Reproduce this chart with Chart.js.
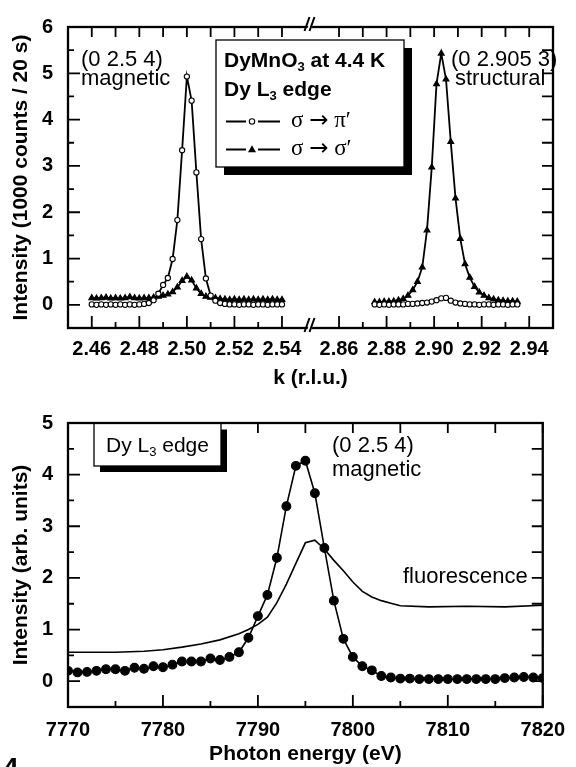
<!DOCTYPE html>
<html>
<head>
<meta charset="utf-8">
<script src="https://cdn.jsdelivr.net/npm/chart.js@4.4.1/dist/chart.umd.min.js"></script>
<style>
  html, body { margin: 0; padding: 0; background: #fff; }
  #wrap { position: relative; width: 576px; height: 767px; overflow: hidden; }
  canvas { position: absolute; left: 0; }
  #top { top: 0; }
  #bottom { top: 396px; }
</style>
</head>
<body>
<div id="wrap">
  <canvas id="top" width="576" height="396"></canvas>
  <canvas id="bottom" width="576" height="380"></canvas>
</div>
<script>
// ---- top panel: k scans through the two reflections ----
const kLeft = [2.460, 2.462, 2.464, 2.466, 2.468, 2.470, 2.472, 2.474, 2.476, 2.478,
  2.480, 2.482, 2.484, 2.486, 2.488, 2.490, 2.492, 2.494, 2.496, 2.498,
  2.500, 2.502, 2.504, 2.506, 2.508, 2.510, 2.512, 2.514, 2.516, 2.518,
  2.520, 2.522, 2.524, 2.526, 2.528, 2.530, 2.532, 2.534, 2.536, 2.538, 2.540];
const piLeft = [0.01, 0.00, 0.01, 0.00, 0.01, 0.00, 0.01, 0.00, 0.01, 0.00,
  0.01, 0.02, 0.04, 0.10, 0.24, 0.43, 0.58, 0.99, 1.83, 3.34,
  4.93, 4.41, 2.86, 1.42, 0.57, 0.20, 0.09, 0.04, 0.02, 0.01,
  0.01, 0.00, 0.01, 0.01, 0.00, 0.01, 0.01, 0.00, 0.01, 0.01, 0.01];
const sigmaLeft = [0.15, 0.14, 0.15, 0.16, 0.14, 0.15, 0.14, 0.15, 0.17, 0.15,
  0.14, 0.15, 0.15, 0.16, 0.18, 0.20, 0.23, 0.28, 0.38, 0.52,
  0.61, 0.53, 0.36, 0.24, 0.18, 0.16, 0.15, 0.13, 0.12, 0.11,
  0.12, 0.11, 0.12, 0.11, 0.12, 0.11, 0.12, 0.11, 0.12, 0.11, 0.11];
const kRight = [2.875, 2.877, 2.879, 2.881, 2.883, 2.885, 2.887, 2.889, 2.891, 2.893,
  2.895, 2.897, 2.899, 2.901, 2.903, 2.905, 2.907, 2.909, 2.911, 2.913,
  2.915, 2.917, 2.919, 2.921, 2.923, 2.925, 2.927, 2.929, 2.931, 2.933, 2.935];
const piRight = [0.01, 0.00, 0.01, 0.00, 0.01, 0.01, 0.01, 0.02, 0.02, 0.03,
  0.04, 0.05, 0.07, 0.10, 0.14, 0.15, 0.09, 0.05, 0.03, 0.02,
  0.01, 0.01, 0.00, 0.01, 0.01, 0.00, 0.01, 0.01, 0.00, 0.01, 0.01];
const sigmaRight = [0.06, 0.06, 0.07, 0.07, 0.08, 0.10, 0.13, 0.20, 0.32, 0.50,
  0.81, 1.61, 2.97, 4.77, 5.43, 4.87, 3.52, 2.30, 1.43, 0.88,
  0.59, 0.39, 0.27, 0.20, 0.15, 0.12, 0.10, 0.09, 0.08, 0.08, 0.07];
const kMajor = [2.46, 2.48, 2.50, 2.52, 2.54, 2.86, 2.88, 2.90, 2.92, 2.94];
const kMinor = [2.47, 2.49, 2.51, 2.53, 2.87, 2.89, 2.91, 2.93];
const countMajor = [0, 1, 2, 3, 4, 5, 6];
const countMinor = [0.5, 1.5, 2.5, 3.5, 4.5, 5.5];

// ---- bottom panel: energy scan at (0 2.5 4) ----
const energy = [7770, 7771, 7772, 7773, 7774, 7775, 7776, 7777, 7778, 7779,
  7780, 7781, 7782, 7783, 7784, 7785, 7786, 7787, 7788, 7789,
  7790, 7791, 7792, 7793, 7794, 7795, 7796, 7797, 7798, 7799,
  7800, 7801, 7802, 7803, 7804, 7805, 7806, 7807, 7808, 7809,
  7810, 7811, 7812, 7813, 7814, 7815, 7816, 7817, 7818, 7819, 7820];
const magnetic = [0.20, 0.17, 0.18, 0.20, 0.23, 0.23, 0.20, 0.26, 0.24, 0.29,
  0.27, 0.32, 0.38, 0.38, 0.38, 0.44, 0.41, 0.47, 0.56, 0.84,
  1.26, 1.67, 2.39, 3.39, 4.17, 4.27, 3.64, 2.58, 1.56, 0.82,
  0.47, 0.29, 0.21, 0.10, 0.07, 0.05, 0.05, 0.04, 0.04, 0.04,
  0.04, 0.04, 0.04, 0.04, 0.04, 0.04, 0.06, 0.07, 0.08, 0.07, 0.06];
const fluoEnergy = [7770, 7772, 7775, 7778, 7780, 7782, 7784, 7786, 7788, 7789,
  7790, 7791, 7792, 7793, 7794, 7795, 7796, 7797, 7798, 7799,
  7800, 7801, 7802, 7803, 7804, 7805, 7808, 7812, 7816, 7820];
const fluorescence = [0.56, 0.56, 0.56, 0.58, 0.61, 0.66, 0.72, 0.80, 0.92, 1.00,
  1.10, 1.24, 1.52, 1.88, 2.28, 2.68, 2.73, 2.56, 2.34, 2.14,
  1.92, 1.74, 1.63, 1.56, 1.51, 1.46, 1.44, 1.45, 1.44, 1.47];
const eMajor = [7770, 7780, 7790, 7800, 7810, 7820];
const eMinor = [7775, 7785, 7795, 7805, 7815];
const arbMajor = [0, 1, 2, 3, 4, 5];
const arbMinor = [0.5, 1.5, 2.5, 3.5, 4.5];

// the axis break squeezes 2.54 .. 2.86 into a short gap
const kGap = 0.296;
const toAxis = k => (k > 2.7 ? k - kGap : k);
const pts = (xs, ys, f = v => v) => xs.map((x, i) => ({ x: f(x), y: ys[i] }));

const SANS = '"Liberation Sans", Arial, sans-serif';
const SERIF = '"Liberation Serif", "DejaVu Serif", serif';
const ARROW = '"DejaVu Sans", sans-serif';
const tickFont = { family: SANS, size: 20, weight: 'bold' };
const titleFont = { family: SANS, size: 21, weight: 'bold' };

// frame + inward ticks on all four sides
const frameTicks = {
  id: 'frameTicks',
  afterDraw(chart, args, o) {
    const { ctx, chartArea: a } = chart;
    const x = chart.scales.x, y = chart.scales.y;
    ctx.save();
    ctx.strokeStyle = '#000';
    ctx.lineWidth = 1.8;
    ctx.beginPath();
    const tick = (px, py, dx, dy) => { ctx.moveTo(px, py); ctx.lineTo(px + dx, py + dy); };
    o.xMajor.forEach(v => tick(x.getPixelForValue(v), a.bottom, 0, -12));
    o.xMinor.forEach(v => tick(x.getPixelForValue(v), a.bottom, 0, -6));
    o.xMajor.concat(o.xMinor).forEach(v => tick(x.getPixelForValue(v), a.top, 0, 10));
    o.yMajor.forEach(v => tick(a.left, y.getPixelForValue(v), 12, 0));
    o.yMinor.forEach(v => tick(a.left, y.getPixelForValue(v), 6, 0));
    o.yMajor.concat(o.yMinor).forEach(v => tick(a.right, y.getPixelForValue(v), -11, 0));
    ctx.stroke();
    ctx.lineWidth = 2.3;
    ctx.strokeRect(a.left, a.top, a.right - a.left, a.bottom - a.top);
    if (o.breakAt !== undefined) {
      const bx = x.getPixelForValue(o.breakAt);
      [a.top, a.bottom].forEach(edge => {
        const cy = edge - 3;
        ctx.fillStyle = '#fff';
        ctx.beginPath();
        ctx.moveTo(bx - 4, cy + 7); ctx.lineTo(bx + 1, cy - 7);
        ctx.lineTo(bx + 5, cy - 7); ctx.lineTo(bx, cy + 7);
        ctx.closePath(); ctx.fill();
        ctx.lineWidth = 2;
        ctx.beginPath();
        ctx.moveTo(bx - 6, cy + 7); ctx.lineTo(bx - 1, cy - 7);
        ctx.moveTo(bx - 1, cy + 7); ctx.lineTo(bx + 4, cy - 7);
        ctx.stroke();
      });
    }
    ctx.restore();
  }
};

// parts: [text, subscript?, family?]
function richText(ctx, parts, x, y, size, weight, family) {
  parts.forEach(([t, sub, fam]) => {
    const s = sub ? size * 0.62 : size;
    ctx.font = `${weight} ${s}px ${fam || family}`;
    ctx.fillText(t, x, sub ? y + size * 0.2 : y);
    x += ctx.measureText(t).width;
  });
}

function shadowBox(ctx, x, y, w, h, off) {
  ctx.fillStyle = '#000';
  ctx.fillRect(x + off, y + off, w, h);
  ctx.fillStyle = '#fff';
  ctx.fillRect(x, y, w, h);
  ctx.strokeStyle = '#000';
  ctx.lineWidth = 1.3;
  ctx.strokeRect(x, y, w, h);
}

const topNotes = {
  id: 'topNotes',
  afterDraw(chart) {
    const ctx = chart.ctx;
    ctx.save();
    ctx.fillStyle = '#000';
    ctx.textBaseline = 'alphabetic';
    ctx.font = `22px ${SANS}`;
    ctx.fillText('(0 2.5 4)', 81, 65.5);
    ctx.fillText('magnetic', 81, 85);
    ctx.fillText('(0 2.905 3)', 451, 65.5);
    ctx.fillText('structural', 455, 85);

    shadowBox(ctx, 216, 40, 188, 127, 8);
    ctx.fillStyle = '#000';
    richText(ctx, [['DyMnO'], ['3', true], [' at 4.4 K']], 224, 67, 21, 'bold', SANS);
    richText(ctx, [['Dy L'], ['3', true], [' edge']], 224, 96, 21, 'bold', SANS);

    ctx.lineWidth = 1.8;
    ctx.strokeStyle = '#000';
    [121.5, 149.5].forEach(ly => {
      ctx.beginPath();
      ctx.moveTo(226, ly); ctx.lineTo(246, ly);
      ctx.moveTo(258, ly); ctx.lineTo(280, ly);
      ctx.stroke();
    });
    ctx.fillStyle = '#fff';
    ctx.lineWidth = 1.1;
    ctx.beginPath(); ctx.arc(252, 121.5, 2.7, 0, Math.PI * 2); ctx.fill(); ctx.stroke();
    ctx.fillStyle = '#000';
    ctx.beginPath();
    ctx.moveTo(252, 145.3); ctx.lineTo(256, 152.3); ctx.lineTo(248, 152.3);
    ctx.closePath(); ctx.fill();
    richText(ctx, [['\u03C3 '], ['\u2192', false, ARROW], [' \u03C0\u2032']], 291, 127, 23, 'normal', SERIF);
    richText(ctx, [['\u03C3 '], ['\u2192', false, ARROW], [' \u03C3\u2032']], 291, 155, 23, 'normal', SERIF);
    ctx.restore();
  }
};

const bottomNotes = {
  id: 'bottomNotes',
  afterDraw(chart) {
    const ctx = chart.ctx;
    ctx.save();
    shadowBox(ctx, 94, 27.5, 127, 42.5, 6);
    ctx.fillStyle = '#000';
    richText(ctx, [['Dy L'], ['3', true], [' edge']], 106, 56, 21, 'normal', SANS);
    ctx.font = `22px ${SANS}`;
    ctx.fillText('(0 2.5 4)', 332, 56);
    ctx.fillText('magnetic', 332, 80);
    ctx.fillText('fluorescence', 403, 187);
    ctx.font = `bold 28px ${SANS}`;
    ctx.fillText('4', 3, 381);
    ctx.restore();
  }
};

const lineSet = (data, extra) => Object.assign({
  data, borderColor: '#000', borderWidth: 1.8, tension: 0,
  pointBorderColor: '#000', pointBorderWidth: 1.1, pointHoverRadius: 0
}, extra);
const circles = { pointStyle: 'circle', pointRadius: 2.6, pointBackgroundColor: '#fff' };
const triangles = { pointStyle: 'triangle', pointRadius: 3.4, pointBackgroundColor: '#000' };

new Chart(document.getElementById('top'), {
  type: 'line',
  data: {
    datasets: [
      lineSet(pts(kLeft, piLeft, toAxis), circles),
      lineSet(pts(kRight, piRight, toAxis), circles),
      lineSet(pts(kLeft, sigmaLeft, toAxis), triangles),
      lineSet(pts(kRight, sigmaRight, toAxis), triangles)
    ]
  },
  options: {
    responsive: false,
    animation: false,
    layout: { padding: { top: 24, right: 23, left: 0, bottom: 0 } },
    plugins: {
      legend: { display: false },
      tooltip: { enabled: false },
      frameTicks: {
        xMajor: kMajor.map(toAxis), xMinor: kMinor.map(toAxis),
        yMajor: countMajor, yMinor: countMinor, breakAt: 2.552
      }
    },
    scales: {
      x: {
        type: 'linear', min: 2.45, max: 2.95 - kGap,
        grid: { display: false, drawTicks: false }, border: { display: false },
        afterBuildTicks: s => { s.ticks = kMajor.map(k => ({ value: toAxis(k) })); },
        afterFit: s => { s.height = 68; },
        ticks: { autoSkip: false, maxRotation: 0, padding: 9, color: '#000', font: tickFont,
                 callback: (v, i) => kMajor[i].toFixed(2) },
        title: { display: true, text: 'k (r.l.u.)', color: '#000', font: titleFont, padding: { top: 0, bottom: 5 } }
      },
      y: {
        min: -0.5, max: 6,
        grid: { display: false, drawTicks: false }, border: { display: false },
        afterBuildTicks: s => { s.ticks = countMajor.map(v => ({ value: v })); },
        afterFit: s => { s.width = 68; },
        ticks: { padding: 15, color: '#000', font: tickFont, callback: v => String(v) },
        title: { display: true, text: 'Intensity (1000 counts / 20 s)', color: '#000', font: titleFont, padding: { top: 9, bottom: 0 } }
      }
    }
  },
  plugins: [frameTicks, topNotes]
});

new Chart(document.getElementById('bottom'), {
  type: 'line',
  data: {
    datasets: [
      lineSet(pts(energy, magnetic), { pointStyle: 'circle', pointRadius: 4.4, pointBackgroundColor: '#000', borderWidth: 1.6 }),
      lineSet(pts(fluoEnergy, fluorescence), { pointRadius: 0, borderWidth: 1.6 })
    ]
  },
  options: {
    responsive: false,
    animation: false,
    layout: { padding: { top: 8, right: 23, left: 0, bottom: 0 } },
    plugins: {
      legend: { display: false },
      tooltip: { enabled: false },
      frameTicks: { xMajor: eMajor, xMinor: eMinor, yMajor: arbMajor, yMinor: arbMinor }
    },
    scales: {
      x: {
        type: 'linear', min: 7770, max: 7820,
        grid: { display: false, drawTicks: false }, border: { display: false },
        afterBuildTicks: s => { s.ticks = eMajor.map(v => ({ value: v })); },
        afterFit: s => { s.height = 69; },
        ticks: { autoSkip: false, maxRotation: 0, padding: 11, color: '#000', font: tickFont,
                 callback: v => String(v) },
        title: { display: true, text: 'Photon energy (eV)', color: '#000', font: titleFont, padding: { top: 0, bottom: 9 } }
      },
      y: {
        min: -0.5, max: 5,
        grid: { display: false, drawTicks: false }, border: { display: false },
        afterBuildTicks: s => { s.ticks = arbMajor.map(v => ({ value: v })); },
        afterFit: s => { s.width = 68; },
        ticks: { padding: 15, color: '#000', font: tickFont, callback: v => String(v) },
        title: { display: true, text: 'Intensity (arb. units)', color: '#000', font: titleFont, padding: { top: 9, bottom: 0 } }
      }
    }
  },
  plugins: [frameTicks, bottomNotes]
});
</script>
</body>
</html>
